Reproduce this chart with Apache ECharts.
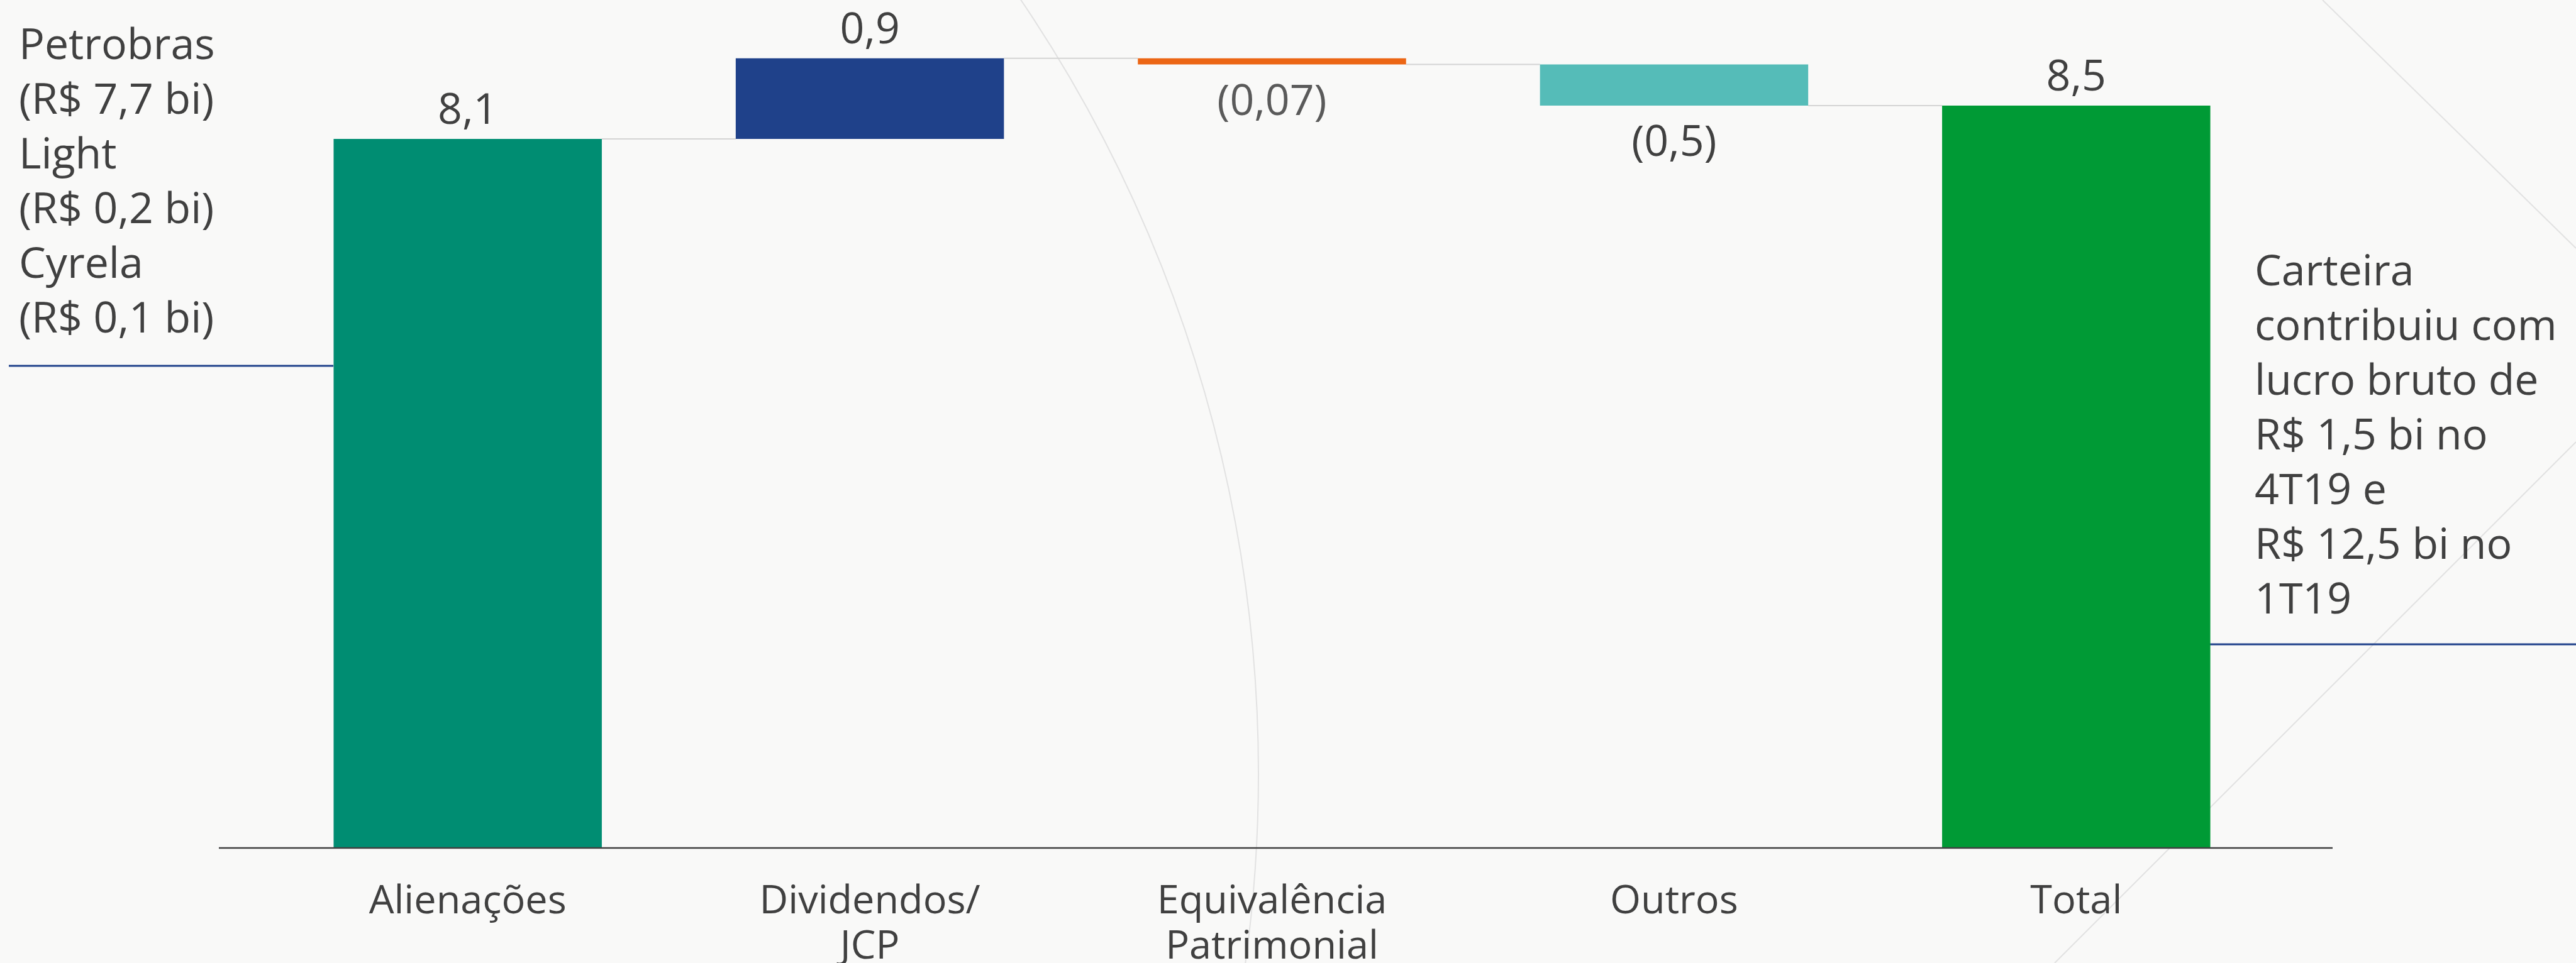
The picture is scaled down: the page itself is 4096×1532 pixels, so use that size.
<!DOCTYPE html>
<html>
<head>
<meta charset="utf-8">
<script src="https://cdn.jsdelivr.net/npm/echarts@6/dist/echarts.min.js"></script>
<style>
  html, body { margin: 0; padding: 0; background: #f9f9f8; }
  #chart { width: 4096px; height: 1532px; }
</style>
</head>
<body>
<div id="chart"></div>
<script>
// categorias e valores (R$ bi)
const categories = ['Alienações', 'Dividendos/\nJCP', 'Equivalência\nPatrimonial', 'Outros', 'Total'];
const steps = [8.1, 0.92, -0.07, -0.47];          // variações
const valueLabels = ['8,1', '0,9', '(0,07)', '(0,5)', '8,5'];
const barColors = ['#008d72', '#1f418a', '#ec6615', '#55bcb8', '#009a35'];
const labelColors = ['#404040', '#404040', '#5a5a5a', '#404040', '#404040'];

const leftNote = ['Petrobras', '(R$ 7,7 bi)', 'Light', '(R$ 0,2 bi)', 'Cyrela', '(R$ 0,1 bi)'];
const rightNote = ['Carteira', 'contribuiu com', 'lucro bruto de', 'R$ 1,5 bi no', '4T19 e', 'R$ 12,5 bi no', '1T19'];

const FONT = '"Open Sans"';
const TEXT = '#404040';

// monta a cascata: base invisivel + barra visivel
let running = 0;
const baseData = [];
const barData = [];
const levels = [];           // nível após cada passo, para os conectores
steps.forEach(function (v, i) {
  const next = running + v;
  baseData.push(Math.min(running, next));
  barData.push(Math.abs(v));
  running = next;
  levels.push([i, running]);
});
baseData.push(0);
barData.push(running);

const chart = echarts.init(document.getElementById('chart'));

// linhas decorativas do fundo (papel)
const decoStyle = { stroke: '#e2e2e2', lineWidth: 2, fill: null };

const option = {
  backgroundColor: '#f9f9f8',
  animation: false,
  grid: { left: 424, right: 475, top: 26, bottom: 183, outerBoundsMode: 'none' },
  xAxis: {
    type: 'category',
    data: categories,
    axisLine: { show: false },
    axisTick: { show: false },
    axisLabel: {
      interval: 0, margin: 50, color: TEXT,
      fontFamily: FONT, fontSize: 63, lineHeight: 72
    }
  },
  yAxis: {
    type: 'value', min: 0, max: 9.5, show: false, splitLine: { show: false }
  },
  series: [
    {
      type: 'bar', stack: 'w', barWidth: '66.7%', silent: true,
      itemStyle: { color: 'transparent' },
      data: baseData
    },
    {
      type: 'bar', stack: 'w', barWidth: '66.7%',
      data: barData.map(function (v, i) {
        const neg = i < steps.length && steps[i] < 0;
        return {
          value: v,
          itemStyle: { color: barColors[i] },
          label: {
            show: true,
            position: neg ? 'bottom' : 'top',
            distance: neg ? 27 : 9,
            formatter: valueLabels[i],
            color: labelColors[i],
            fontFamily: FONT, fontSize: 68
          }
        };
      })
    },
    {
      type: 'custom', silent: true, z: 1,
      data: levels,
      renderItem: function (params, api) {
        const p = api.coord([api.value(0), api.value(1)]);
        const band = api.size([1, 0])[0];
        const half = band * 0.667 / 2;
        return {
          type: 'line',
          shape: { x1: p[0] + half, y1: p[1], x2: p[0] + band - half, y2: p[1] },
          style: { stroke: '#d4d4d4', lineWidth: 2 }
        };
      }
    }
  ],
  graphic: [
    { type: 'arc', shape: { cx: -194, cy: 1231, r: 2195, startAngle: -Math.PI / 2, endAngle: Math.PI / 2 },
      style: decoStyle, z: -10 },
    { type: 'line', shape: { x1: 3693, y1: 0, x2: 4096, y2: 395 }, style: decoStyle, z: -10 },
    { type: 'line', shape: { x1: 4096, y1: 703, x2: 3267, y2: 1532 }, style: decoStyle, z: -10 },
    { type: 'line', shape: { x1: 348, y1: 1349, x2: 3709, y2: 1349 },
      style: { stroke: '#404040', lineWidth: 2.5 }, z: 10 },
    { type: 'line', shape: { x1: 14, y1: 582, x2: 530, y2: 582 },
      style: { stroke: '#1f418a', lineWidth: 3 } },
    { type: 'line', shape: { x1: 3514, y1: 1025, x2: 4096, y2: 1025 },
      style: { stroke: '#1f418a', lineWidth: 3 } },
    { type: 'text', left: 30, top: 31,
      style: { text: leftNote.join('\n'), font: '68px ' + FONT, lineHeight: 87, fill: TEXT } },
    { type: 'text', left: 3585, top: 391,
      style: { text: rightNote.join('\n'), font: '68px ' + FONT, lineHeight: 87, fill: TEXT } }
  ]
};

chart.setOption(option);
</script>
</body>
</html>
